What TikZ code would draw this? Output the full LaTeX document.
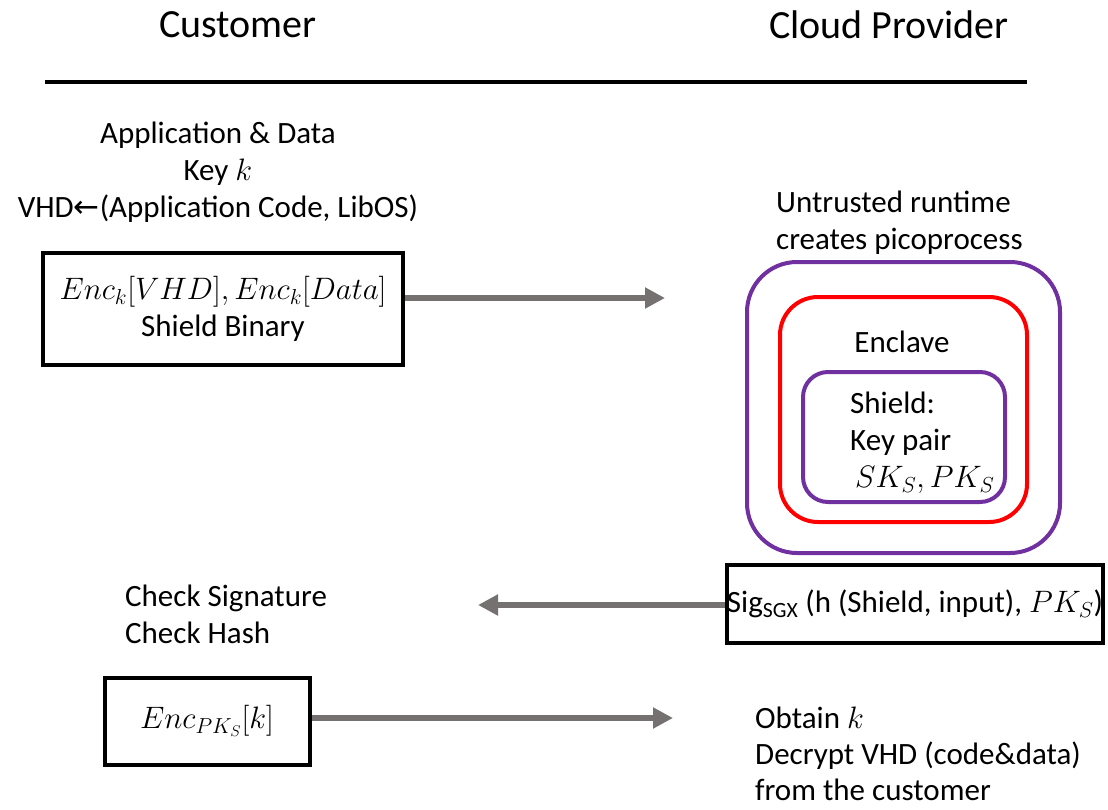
\RequirePackage{fix-cm}
\documentclass[tikz,border=0pt]{standalone}
\usepackage{fontspec}
\setmainfont{Carlito}
\newfontfamily\symbolfont{DejaVu Sans}
\usetikzlibrary{arrows.meta,positioning}
\definecolor{shieldpurple}{HTML}{7030A0}
\definecolor{enclavered}{HTML}{FF0000}
\definecolor{flowgray}{HTML}{767171}
\begin{document}
\begin{tikzpicture}[
    x=1pt, y=-1pt,
    every node/.append style={font=\fontsize{31}{37}\selectfont, inner sep=0pt},
    party/.style={font=\fontsize{40}{48}\selectfont},
    message/.style={rectangle, draw=black, line width=4pt, align=center},
    layer/.style={rectangle, line width=4pt, rounded corners=#1},
    flow/.style={line width=6pt, draw=flowgray, -{Triangle[length=20pt,width=20pt,fill=flowgray]}},
    note/.style={align=left}
]
    \useasboundingbox (0,0) rectangle (1108,809);

    % Kopfzeile mit den beiden Parteien
    \node[party] (customer) at (238,25) {Customer};
    \node[party] (provider) at (889,25) {Cloud Provider};
    \coordinate (ruleL) at (45,82);
    \coordinate (ruleR) at (1027,82);
    \draw[line width=4pt] (ruleL) -- (ruleR);

    % Kunde: Vorbereitung
    \node[align=center] (prep) at (218,172) {Application \& Data\\Key $k$\\VHD{\symbolfont ←}(Application Code, LibOS)};
    \node[message, minimum width=360pt, minimum height=112pt] (encbox) at (223,309)
        {$Enc_k[VHD], Enc_k[Data]$\\Shield Binary};

    % Anbieter: Picoprozess mit Enklave
    \node[note, anchor=west] (runtime) at (776,223) {Untrusted runtime\\creates picoprocess};
    \node[layer=50pt, draw=shieldpurple, minimum width=313pt, minimum height=291pt] (pico) at (903.5,407.5) {};
    \node[layer=38pt, draw=enclavered, minimum width=247pt, minimum height=225pt] (enclave) at (903.5,409.5) {};
    \node (enclavelbl) at (902,342) {Enclave};
    \node[layer=25pt, draw=shieldpurple, minimum width=202pt, minimum height=130pt] (shield) at (904,437) {};
    \node[note, anchor=west] (keys) at (850,443) {Shield:\\Key pair\\\hspace{5pt}$SK_S, PK_S$};

    % Attestierung
    \node[message, minimum width=376pt, minimum height=78pt] (sigbox) at (915,604)
        {Sig\textsubscript{SGX} (h (Shield, input), $PK_S$)};
    \node[note, anchor=west] (check) at (125,614) {Check Signature\\Check Hash};

    % Schluesseluebergabe
    \node[message, minimum width=205pt, minimum height=87pt] (keybox) at (207,721) {$Enc_{PK_S}[k]$};
    \node[note, anchor=west, font=\fontsize{31}{36}\selectfont] (obtain) at (755,754) {Obtain $k$\\Decrypt VHD (code\&data)\\from the customer};

    % Nachrichtenpfeile
    \coordinate (sendtip) at (665,298);
    \coordinate (sigtip) at (478,605);
    \coordinate (keytip) at (673,718);
    \draw[flow] (encbox.east |- sendtip) -- (sendtip);
    \draw[flow] (sigbox.west |- sigtip) -- (sigtip);
    \draw[flow] (keybox.east |- keytip) -- (keytip);
\end{tikzpicture}
\end{document}
